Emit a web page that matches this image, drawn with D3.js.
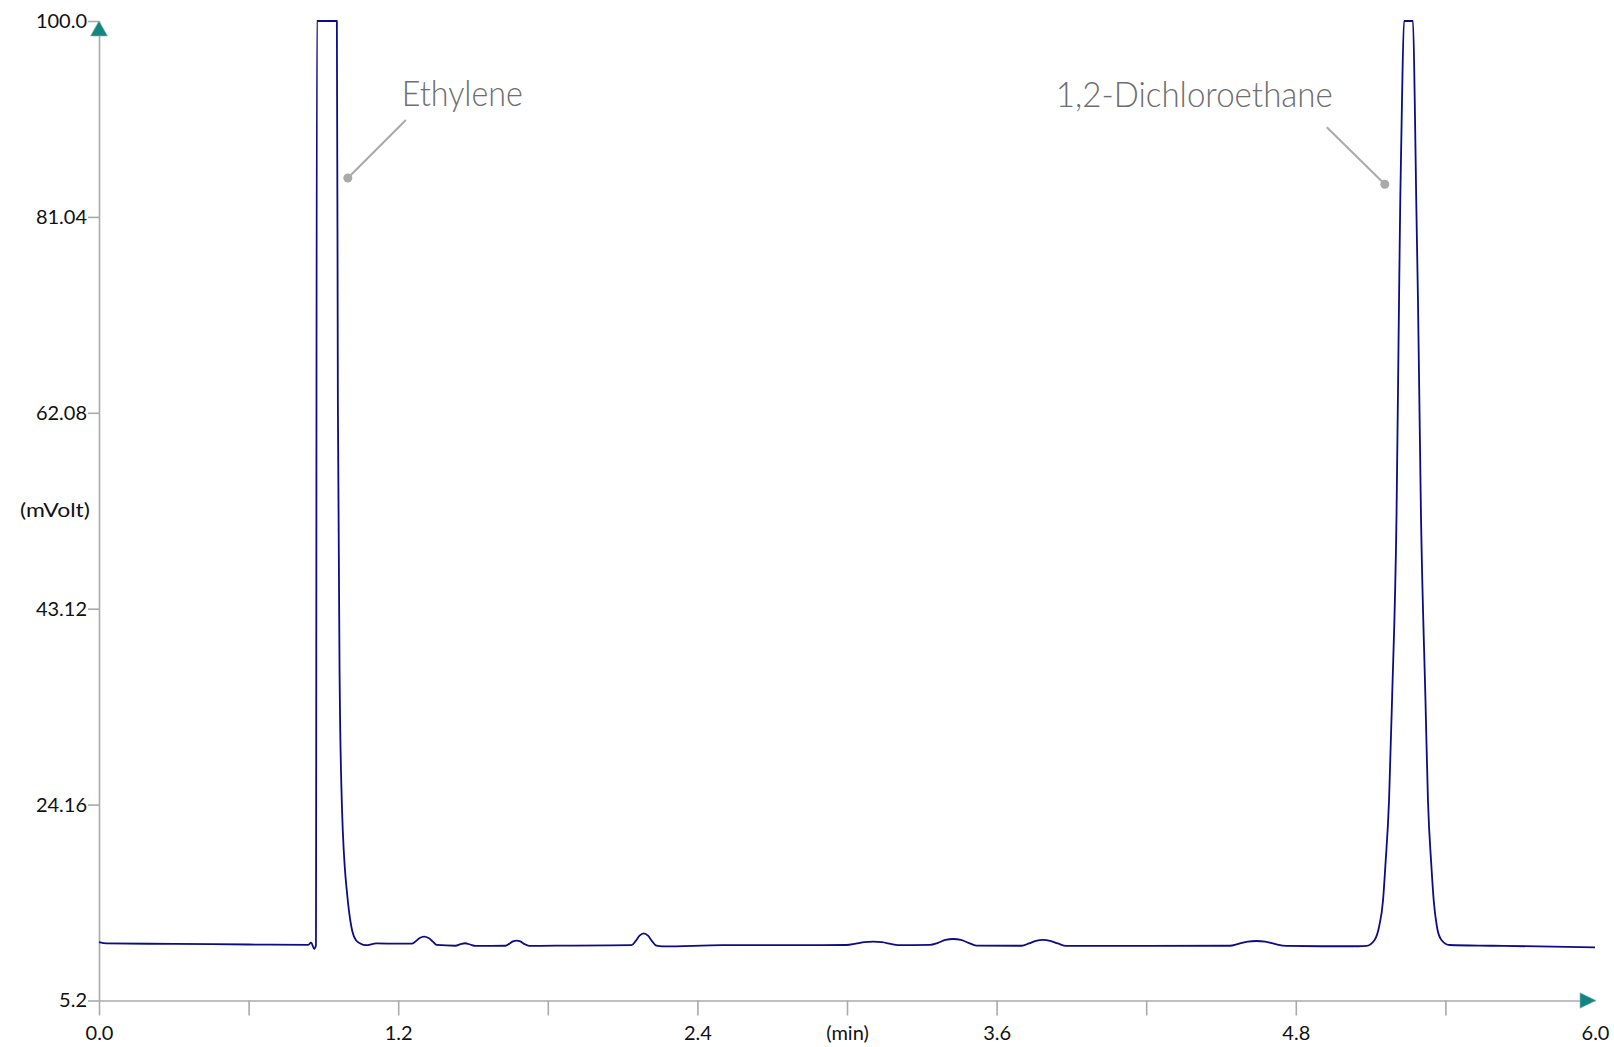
<!DOCTYPE html>
<html>
<head>
<meta charset="utf-8">
<script src="https://cdn.jsdelivr.net/npm/d3@7"></script>
<style>
  body { margin: 0; background: #fff; }
  svg { display: block; }
  .axis path, .axis line { stroke: #aaaaaa; stroke-width: 1.6px; }
  .axis text { font-family: Lato, "Open Sans", sans-serif; font-size: 20px; fill: #111; }
  .unit { font-family: Lato, "Open Sans", sans-serif; font-size: 20px; fill: #111; }
  .annot text { font-family: Lato, "Open Sans", sans-serif; font-weight: 300; font-size: 36px; fill: #6e6e6e; }
  .annot line { stroke: #aaaaaa; stroke-width: 2px; }
  .annot circle { fill: #aaaaaa; }
</style>
</head>
<body>
<svg id="chart" width="1614" height="1047"></svg>
<script>
// retention time (min) / detector signal (mV)
const TIME = [
  0.000, 0.030, 0.300, 0.600, 0.838, 0.851, 0.863, 0.870, 0.874, 0.954,
  0.958, 0.966, 0.972, 0.978, 0.986, 0.994, 1.004, 1.016, 1.030, 1.048,
  1.070, 1.113, 1.200,
  1.254, 1.269, 1.286, 1.304, 1.322, 1.339, 1.354,
  1.430, 1.450, 1.468, 1.488, 1.510,
  1.630, 1.645, 1.660, 1.675, 1.690, 1.705, 1.725,
  1.900,
  2.136, 2.152, 2.168, 2.185, 2.202, 2.218, 2.236, 2.260,
  2.500,
  2.998, 3.035, 3.070, 3.105, 3.140, 3.175, 3.204,
  3.332, 3.365, 3.395, 3.426, 3.457, 3.488, 3.519,
  3.700, 3.730, 3.758, 3.786, 3.814, 3.845, 3.880,
  4.200,
  4.535, 4.570, 4.607, 4.642, 4.677, 4.715, 4.762,
  4.900, 5.050,
  5.083, 5.116, 5.134, 5.150, 5.159, 5.174, 5.186, 5.204, 5.214, 5.219,
  5.226, 5.234, 5.270, 5.277, 5.283, 5.290, 5.302, 5.320, 5.330, 5.344,
  5.353, 5.366, 5.384, 5.417, 5.591, 6.000
];
const SIGNAL = [
  10.85, 10.72, 10.68, 10.62, 10.58, 10.80, 10.20, 10.55, 100.0, 100.0,
  63.30, 34.30, 26.00, 21.50, 18.00, 15.80, 13.60, 11.90, 11.05, 10.72,
  10.55, 10.72, 10.70,
  10.70, 10.90, 11.24, 11.38, 11.24, 10.90, 10.58,
  10.50, 10.65, 10.74, 10.62, 10.48,
  10.50, 10.68, 10.92, 11.00, 10.92, 10.68, 10.48,
  10.52,
  10.55, 10.95, 11.48, 11.70, 11.48, 10.95, 10.50, 10.43,
  10.55,
  10.57, 10.70, 10.84, 10.89, 10.84, 10.68, 10.55,
  10.58, 10.78, 11.06, 11.15, 11.06, 10.78, 10.52,
  10.50, 10.72, 10.98, 11.06, 10.98, 10.72, 10.48,
  10.48,
  10.50, 10.68, 10.90, 10.96, 10.90, 10.68, 10.48,
  10.45, 10.45,
  10.48, 11.06, 12.34, 14.93, 18.15, 24.61, 34.29, 52.20, 73.00, 82.70,
  92.40, 100.0, 100.0, 92.40, 82.70, 73.00, 52.20, 34.30, 24.60, 18.15,
  14.93, 12.34, 11.06, 10.57, 10.50, 10.35
];

const X_TICKS = [0, 0.6, 1.2, 1.8, 2.4, 3.0, 3.6, 4.2, 4.8, 5.4, 6.0];
const X_LABELS = ['0.0', '', '1.2', '', '2.4', '(min)', '3.6', '', '4.8', '', '6.0'];
const Y_TICKS = [5.2, 24.16, 43.12, 62.08, 81.04, 100.0];
const Y_LABELS = ['5.2', '24.16', '43.12', '62.08', '81.04', '100.0'];
const Y_UNIT = '(mVolt)';

const PEAK_NAMES = ['Ethylene', '1,2-Dichloroethane'];
const PEAK_DOT_TIME = [0.998, 5.157];
const PEAK_DOT_MV = [84.8, 84.2];

let svg = d3.select('#chart');

let x = d3.scaleLinear().domain([0, 6]).range([99, 1595]);
let y = d3.scaleLinear().domain([5.2, 100]).range([1000.5, 21]);

svg.append('g')
  .attr('class', 'axis y')
  .attr('transform', 'translate(' + x(0) + ',0)')
  .call(d3.axisLeft(y)
    .tickValues(Y_TICKS)
    .tickFormat((d, i) => Y_LABELS[i])
    .tickSize(11)
    .tickSizeOuter(0)
    .tickPadding(1));

let xAxis = svg.append('g')
  .attr('class', 'axis x')
  .attr('transform', 'translate(0,' + y(5.2) + ')')
  .call(d3.axisBottom(x)
    .tickValues(X_TICKS)
    .tickFormat((d, i) => X_LABELS[i])
    .tickSize(15)
    .tickSizeOuter(0)
    .tickPadding(10));

xAxis.selectAll('.tick')
  .filter((d) => d === 6.0)
  .select('line').remove();

svg.append('text')
  .attr('class', 'unit')
  .attr('x', 90)
  .attr('y', y((Y_TICKS[2] + Y_TICKS[3]) / 2))
  .attr('dy', '0.32em')
  .attr('text-anchor', 'end')
  .attr('textLength', 70)
  .attr('lengthAdjust', 'spacingAndGlyphs')
  .text(Y_UNIT);

// arrow heads on both axes
let x0 = x(0), y0 = y(5.2), yTop = y(100), xEnd = x(6) + 1;
svg.append('path')
  .attr('d', `M${x0},${yTop} L${x0 - 8.5},${yTop + 15} L${x0 + 8.5},${yTop + 15} Z`)
  .attr('fill', '#148383')
  .attr('stroke', '#7fb5b5')
  .attr('stroke-width', 0.6);
svg.append('path')
  .attr('d', `M${xEnd},${y0} L${xEnd - 16},${y0 - 7.7} L${xEnd - 16},${y0 + 7.7} Z`)
  .attr('fill', '#148383')
  .attr('stroke', '#7fb5b5')
  .attr('stroke-width', 0.6);

let trace = TIME.map((t, i) => [t, SIGNAL[i]]);
let line = d3.line()
  .x((d) => x(d[0]))
  .y((d) => y(d[1]))
  .curve(d3.curveMonotoneX);

svg.append('path')
  .datum(trace)
  .attr('fill', 'none')
  .attr('stroke', '#0c0c84')
  .attr('stroke-width', 1.8)
  .attr('stroke-linejoin', 'round')
  .attr('d', line);

// peak callouts: dot on the peak, leader up and out, then the name
let annot = svg.append('g').attr('class', 'annot');
let callouts = [
  { dx: 58, dy: -58, tx: -4, ty: -14, anchor: 'start', len: 121 },
  { dx: -58, dy: -57, tx: 6, ty: -20, anchor: 'end', len: 277 }
];
PEAK_NAMES.forEach((name, i) => {
  let c = callouts[i];
  let px = x(PEAK_DOT_TIME[i]), py = y(PEAK_DOT_MV[i]);
  annot.append('line')
    .attr('x1', px).attr('y1', py)
    .attr('x2', px + c.dx).attr('y2', py + c.dy);
  annot.append('circle')
    .attr('cx', px).attr('cy', py).attr('r', 4.5);
  annot.append('text')
    .attr('x', px + c.dx + c.tx)
    .attr('y', py + c.dy + c.ty)
    .attr('text-anchor', c.anchor)
    .attr('textLength', c.len)
    .attr('lengthAdjust', 'spacingAndGlyphs')
    .text(name);
});
</script>
</body>
</html>
